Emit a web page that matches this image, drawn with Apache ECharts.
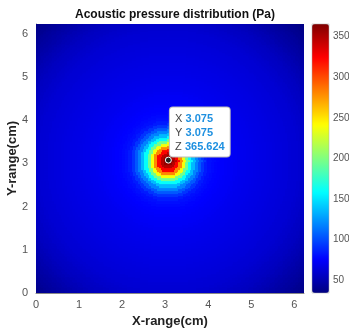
<!DOCTYPE html>
<html>
<head>
<meta charset="utf-8">
<script src="https://cdn.jsdelivr.net/npm/echarts@6/dist/echarts.min.js"></script>
<style>
  html, body { margin: 0; padding: 0; background: #fff; }
  #chart { width: 349px; height: 329px; }
</style>
</head>
<body>
<div id="chart"></div>
<script>
// sampling step of the field (cm) and of the profile below (cm)
const cellSize = 0.0375;
const profileStep = 0.075;
const nodeCount = 167;

// peak data tip: x, y, z
const peakPoint = [3.075, 3.075, 365.624];

const radialProfile = [
  365.6, 360, 348, 325, 280, 238, 195, 160, 136, 118,
  104, 92, 84, 80, 78, 76.5, 75.5, 74.5, 73.5, 73,
  72.5, 71.5, 70.5, 70, 69.5, 69, 68.5, 68, 67.5, 67,
  66.5, 66, 65.5, 65, 64.5, 64, 63.5, 63, 62, 61.5,
  61, 60, 59, 58, 57, 56, 55, 53.5, 52, 50.5,
  49, 47.5, 46, 44.5, 43, 41.5, 40, 38.5, 37, 36, 35
];

// colour range and tick labels
const colorRange = [34, 365.624];
const colorbarTicks = [50, 100, 150, 200, 250, 300, 350];
const axisTicks = [0, 1, 2, 3, 4, 5, 6];

const jetColors = ['#000080', '#0000ff', '#0080ff', '#00ffff', '#80ff80', '#ffff00', '#ff8000', '#ff0000', '#800000'];

// build the field from the profile
const field = [];
for (let i = 0; i < nodeCount; i++) {
  for (let j = 0; j < nodeCount; j++) {
    const x = i * cellSize;
    const y = j * cellSize;
    const k = Math.round(Math.hypot(x - peakPoint[0], y - peakPoint[1]) / profileStep);
    const v = radialProfile[Math.min(k, radialProfile.length - 1)];
    field.push([+x.toFixed(4), +y.toFixed(4), v]);
  }
}

const chart = echarts.init(document.getElementById('chart'));
const font = 'Liberation Sans, Arial, sans-serif';
const axisMax = cellSize * (nodeCount - 1);

const option = {
  animation: false,
  title: {
    text: 'Acoustic pressure distribution (Pa)',
    left: 170,
    textAlign: 'center',
    top: 4,
    textStyle: { fontFamily: font, fontSize: 12, fontWeight: 'bold', color: '#111' }
  },
  grid: [
    { left: 36, top: 24, width: 268, height: 269, outerBoundsMode: 'none' },
    { left: 312, top: 24, width: 17, height: 269, outerBoundsMode: 'none', show: true, borderColor: '#aaa', borderWidth: 0.5, z: 10 }
  ],
  xAxis: [
    {
      gridIndex: 0,
      type: 'value',
      min: 0,
      max: axisMax,
      name: 'X-range(cm)',
      nameLocation: 'middle',
      nameGap: 22,
      nameMoveOverlap: false,
      nameTextStyle: { fontFamily: font, fontSize: 13, fontWeight: 'bold', color: '#222' },
      axisLine: { show: true, lineStyle: { color: '#888' } },
      axisTick: { show: false },
      splitLine: { show: false },
      axisLabel: { fontFamily: font, fontSize: 11, color: '#555', margin: 6, customValues: axisTicks }
    },
    { gridIndex: 1, type: 'value', show: false, min: 0, max: 1 }
  ],
  yAxis: [
    {
      gridIndex: 0,
      type: 'value',
      min: 0,
      max: axisMax,
      name: 'Y-range(cm)',
      nameLocation: 'middle',
      nameGap: 17,
      nameMoveOverlap: false,
      nameTextStyle: { fontFamily: font, fontSize: 13, fontWeight: 'bold', color: '#222' },
      axisLine: { show: true, lineStyle: { color: '#888' } },
      axisTick: { show: false },
      splitLine: { show: false },
      axisLabel: { fontFamily: font, fontSize: 11, color: '#555', margin: 8, customValues: axisTicks }
    },
    {
      gridIndex: 1,
      type: 'value',
      position: 'right',
      min: colorRange[0],
      max: colorRange[1],
      axisLine: { show: false },
      splitLine: { show: false },
      axisTick: { show: true, length: 2, lineStyle: { color: '#888' }, customValues: colorbarTicks },
      axisLabel: { fontFamily: font, fontSize: 10, color: '#555', margin: 4, customValues: colorbarTicks }
    }
  ],
  visualMap: {
    type: 'continuous',
    seriesIndex: 0,
    dimension: 2,
    min: colorRange[0],
    max: colorRange[1],
    calculable: false,
    hoverLink: false,
    left: 312,
    top: 24,
    padding: 0,
    itemWidth: 17,
    itemHeight: 269,
    text: null,
    showLabel: false,
    inRange: { color: jetColors }
  },
  series: [
    {
      type: 'custom',
      xAxisIndex: 0,
      yAxisIndex: 0,
      progressive: 0,
      silent: true,
      data: field,
      encode: { x: 0, y: 1 },
      renderItem: function (params, api) {
        const x = api.value(0);
        const y = api.value(1);
        const p = api.coord([x - cellSize / 2, y + cellSize / 2]);
        const s = api.size([cellSize, cellSize]);
        const shape = echarts.graphic.clipRectByRect(
          { x: Math.floor(p[0]), y: Math.floor(p[1]), width: s[0] + 1.5, height: s[1] + 1.5 },
          { x: params.coordSys.x, y: params.coordSys.y, width: params.coordSys.width, height: params.coordSys.height }
        );
        return shape && {
          type: 'rect',
          shape: shape,
          style: { fill: api.visual('color') }
        };
      }
    },
    {
      type: 'scatter',
      xAxisIndex: 0,
      yAxisIndex: 0,
      z: 5,
      symbolSize: 6,
      itemStyle: { color: '#222', borderColor: '#fff', borderWidth: 1, opacity: 1 },
      data: [peakPoint],
      label: {
        show: true,
        position: [5, -49],
        align: 'left',
        verticalAlign: 'top',
        backgroundColor: '#fff',
        borderColor: '#bbb',
        borderWidth: 1,
        borderRadius: 3,
        padding: [4, 5, 3, 5],
        lineHeight: 14,
        formatter: function (p) {
          return '{k|X} {v|' + p.value[0].toFixed(3) + '}\n{k|Y} {v|' + p.value[1].toFixed(3) + '}\n{k|Z} {v|' + p.value[2].toFixed(3) + '}';
        },
        rich: {
          k: { fontFamily: font, fontSize: 11, color: '#444', lineHeight: 14 },
          v: { fontFamily: font, fontSize: 11, fontWeight: 'bold', color: '#1e90e0', lineHeight: 14 }
        }
      }
    }
  ]
};

chart.setOption(option);
</script>
</body>
</html>
